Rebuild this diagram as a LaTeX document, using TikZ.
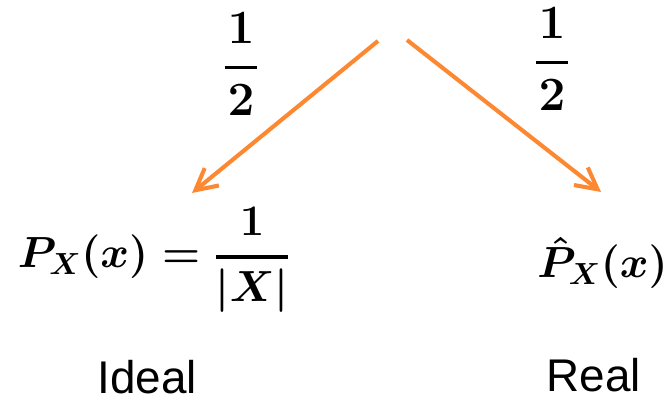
\documentclass[tikz,border=0pt]{standalone}
\usepackage{fix-cm}
\usepackage{amsmath}
\usepackage{fontspec}
\newfontfamily\labelfont{Liberation Sans}
\usetikzlibrary{arrows.meta}
\definecolor{BranchOrange}{RGB}{252,136,50}
\newcommand{\thickfrac}[2]{\genfrac{}{}{2.4pt}{0}{#1}{#2}}

\begin{document}
\begin{tikzpicture}[x=0.025cm, y=-0.025cm,
    prob/.style={inner sep=0pt, font=\fontsize{34}{40}\selectfont\boldmath},
    dist/.style={inner sep=0pt, anchor=base, font=\fontsize{31}{37}\selectfont\boldmath},
    tag/.style={inner sep=0pt, anchor=base, font=\labelfont\fontsize{32.6}{39}\selectfont},
    branch/.style={-{Straight Barb[length=5.3mm, width=5.6mm]}, line width=2.9pt, BranchOrange}
  ]
    \clip (0,0) rectangle (669,398);

    % Split point and branch ends
    \coordinate (srcL) at (378,41);
    \coordinate (srcR) at (407,40);
    \coordinate (tipL) at (192,193);
    \coordinate (tipR) at (601,192);
    \draw[branch] (srcL) -- (tipL);
    \draw[branch] (srcR) -- (tipR);

    % Branch probabilities
    \node[prob] (halfL) at (241,64) {$\thickfrac{\kern2pt 1\kern2pt}{2}$};
    \node[prob] (halfR) at (552,59) {$\thickfrac{\kern2pt 1\kern2pt}{2}$};

    % Ideal distribution
    \node[dist] (ideal) at (154,268) {$P_X(x) = \thickfrac{1}{|X|}$};
    \node[tag] (idealtag) at (147,394) {Ideal};

    % Real distribution
    \node[dist, anchor=base west] (real) at (537,278) {$\hat{P}_X(x)$};
    \node[tag] (realtag) at (594,391) {Real};
\end{tikzpicture}
\end{document}
